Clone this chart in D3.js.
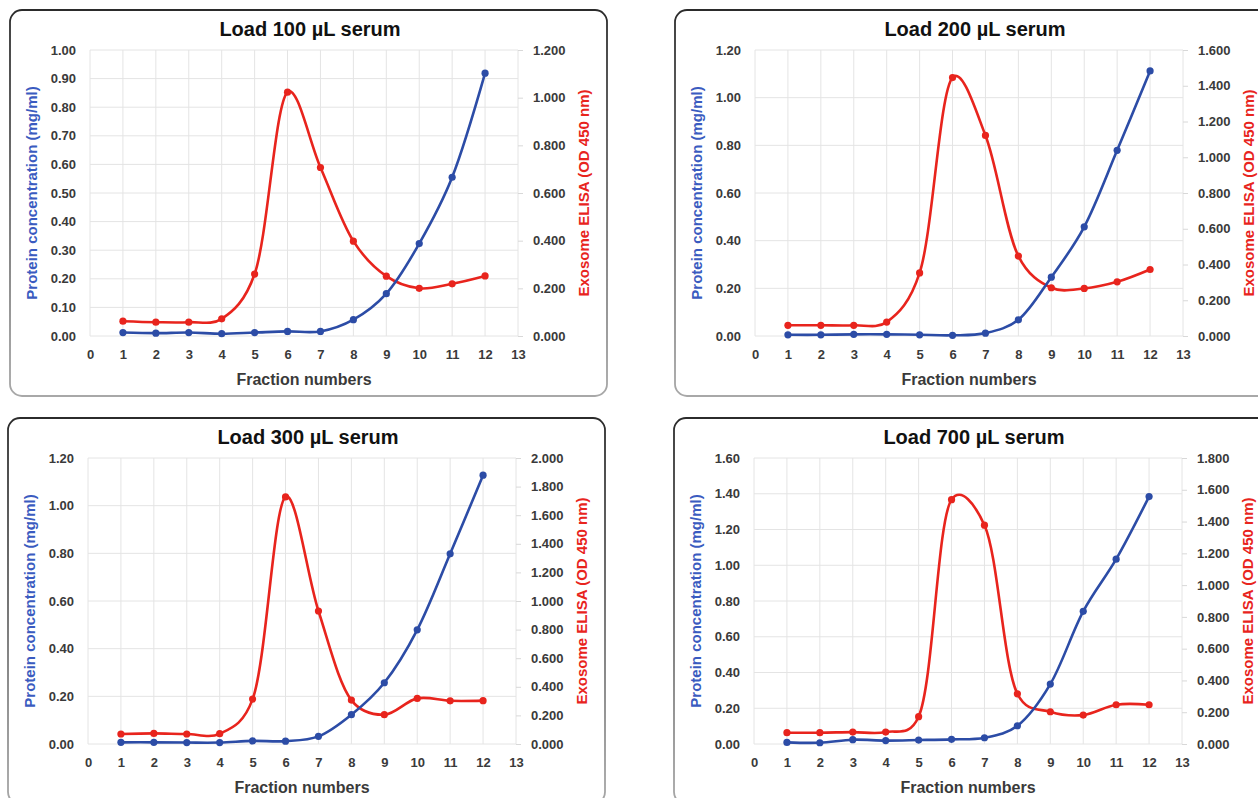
<!DOCTYPE html>
<html><head><meta charset="utf-8">
<script src="https://cdn.jsdelivr.net/npm/d3@7"></script>
<style>body{margin:0;background:#fff;} svg{display:block;}</style>
</head><body>
<svg id="c" width="1258" height="798"></svg>
<script>
const fractions = [1,2,3,4,5,6,7,8,9,10,11,12];
const xTicks = [0,1,2,3,4,5,6,7,8,9,10,11,12,13];
const titles = ["Load 100 \u00b5L serum","Load 200 \u00b5L serum","Load 300 \u00b5L serum","Load 700 \u00b5L serum"];
const protein100 = [0.012,0.010,0.012,0.008,0.012,0.016,0.016,0.057,0.148,0.323,0.555,0.919];
const elisa100   = [0.062,0.058,0.058,0.072,0.260,1.023,0.707,0.398,0.251,0.200,0.219,0.252];
const protein200 = [0.005,0.005,0.007,0.007,0.005,0.003,0.012,0.068,0.247,0.458,0.779,1.112];
const elisa200   = [0.060,0.060,0.060,0.078,0.353,1.446,1.122,0.447,0.270,0.266,0.303,0.372];
const protein300 = [0.007,0.007,0.006,0.006,0.013,0.012,0.032,0.123,0.257,0.479,0.798,1.128];
const elisa300   = [0.070,0.074,0.070,0.072,0.314,1.728,0.930,0.307,0.205,0.319,0.302,0.303];
const protein700 = [0.009,0.007,0.024,0.019,0.022,0.026,0.035,0.102,0.335,0.742,1.034,1.384];
const elisa700   = [0.071,0.071,0.075,0.075,0.172,1.538,1.377,0.316,0.203,0.182,0.247,0.247];
const leftMax  = [1.0,1.2,1.2,1.6];
const leftStep = [0.1,0.2,0.2,0.2];
const rightMax = [1.2,1.6,2.0,1.8];
const rightStep = [0.2,0.2,0.2,0.2];
const xLabel = "Fraction numbers";
const leftLabel = "Protein concentration (mg/ml)";
const rightLabel = "Exosome ELISA (OD 450 nm)";

const proteinSeries = [protein100, protein200, protein300, protein700];
const elisaSeries = [elisa100, elisa200, elisa300, elisa700];
const origins = [[10,10],[675,10],[8,418],[674,418]];

const BLUE = "#2c4ca6", RED = "#e8241d", BLUE_T = "#3a5bc0", TXT = "#3a3a3a";
const FONT = "'Liberation Sans', Arial, sans-serif";
const svg = d3.select("#c");
const defs = svg.append("defs");
const grad = defs.append("linearGradient").attr("id","bg").attr("x1",0).attr("y1",0).attr("x2",0).attr("y2",1);
grad.append("stop").attr("offset","0%").attr("stop-color","#2b2b2b");
grad.append("stop").attr("offset","100%").attr("stop-color","#a8a8a8");

const PW = 597, PH = 386, PL = 80, PT = 40, PWid = 428, PHt = 286;

function ticksOf(max, step){ const n = Math.round(max/step); return d3.range(n+1).map(i=>+(i*step).toFixed(4)); }

origins.forEach((o,i)=>{
  const g = svg.append("g").attr("transform",`translate(${o[0]},${o[1]})`);
  g.append("rect").attr("x",0).attr("y",0).attr("width",PW).attr("height",PH)
    .attr("rx",12).attr("ry",12).attr("fill","#fff").attr("stroke","url(#bg)").attr("stroke-width",1.8);

  const x = d3.scaleLinear().domain([0,13]).range([PL, PL+PWid]);
  const yL = d3.scaleLinear().domain([0,leftMax[i]]).range([PT+PHt, PT]);
  const yR = d3.scaleLinear().domain([0,rightMax[i]]).range([PT+PHt, PT]);
  const lt = ticksOf(leftMax[i], leftStep[i]);
  const rt = ticksOf(rightMax[i], rightStep[i]);

  const grid = g.append("g");
  grid.selectAll("line.h").data(lt).join("line").attr("class","h")
    .attr("x1",x(0)).attr("x2",x(13)).attr("y1",d=>yL(d)).attr("y2",d=>yL(d))
    .attr("stroke","#e4e4e4").attr("stroke-width",1);
  grid.selectAll("line.v").data(xTicks).join("line").attr("class","v")
    .attr("x1",d=>x(d)).attr("x2",d=>x(d)).attr("y1",PT).attr("y2",PT+PHt)
    .attr("stroke","#e4e4e4").attr("stroke-width",1);

  const axL = d3.axisLeft(yL).tickValues(lt).tickFormat(d3.format(".2f")).tickSize(0).tickPadding(14);
  const axR = d3.axisRight(yR).tickValues(rt).tickFormat(d3.format(".3f")).tickSize(5).tickPadding(10);
  const axB = d3.axisBottom(x).tickValues(xTicks).tickFormat(d3.format("d")).tickSize(0).tickPadding(14);
  const gl = g.append("g").attr("transform",`translate(${x(0)},0)`).call(axL);
  const gr = g.append("g").attr("transform",`translate(${x(13)},0)`).call(axR);
  const gb = g.append("g").attr("transform",`translate(0,${yL(0)})`).call(axB);
  [gl,gr,gb].forEach(a=>{
    a.select(".domain").remove();
    a.selectAll("line").attr("stroke","#d8d8d8");
    a.selectAll("text").attr("font-family",FONT).attr("font-size",13).attr("font-weight","bold").attr("fill",TXT);
  });

  g.append("text").attr("x",300).attr("y",26).attr("text-anchor","middle")
    .attr("font-family",FONT).attr("font-size",20).attr("font-weight","bold").attr("fill","#111").text(titles[i]);
  g.append("text").attr("x",(x(0)+x(13))/2).attr("y",375).attr("text-anchor","middle")
    .attr("font-family",FONT).attr("font-size",16).attr("font-weight","bold").attr("fill",TXT).text(xLabel);
  const cy = PT+PHt/2;
  g.append("text").attr("transform",`translate(27,${cy}) rotate(-90)`).attr("text-anchor","middle")
    .attr("font-family",FONT).attr("font-size",15).attr("font-weight","bold").attr("fill",BLUE_T).text(leftLabel);
  g.append("text").attr("transform",`translate(${x(13)+71},${cy}) rotate(-90)`).attr("text-anchor","middle")
    .attr("font-family",FONT).attr("font-size",15).attr("font-weight","bold").attr("fill",RED).text(rightLabel);

  const pData = fractions.map((f,k)=>({x:f,y:proteinSeries[i][k]}));
  const eData = fractions.map((f,k)=>({x:f,y:elisaSeries[i][k]}));
  const lineL = d3.line().x(d=>x(d.x)).y(d=>yL(d.y)).curve(d3.curveCatmullRom.alpha(0.25));
  const lineR = d3.line().x(d=>x(d.x)).y(d=>yR(d.y)).curve(d3.curveCatmullRom.alpha(0.25));
  g.append("path").datum(eData).attr("d",lineR).attr("fill","none").attr("stroke",RED).attr("stroke-width",2.6);
  g.selectAll("circle.e").data(eData).join("circle").attr("class","e")
    .attr("cx",d=>x(d.x)).attr("cy",d=>yR(d.y)).attr("r",3.6).attr("fill",RED);
  g.append("path").datum(pData).attr("d",lineL).attr("fill","none").attr("stroke",BLUE).attr("stroke-width",2.6);
  g.selectAll("circle.p").data(pData).join("circle").attr("class","p")
    .attr("cx",d=>x(d.x)).attr("cy",d=>yL(d.y)).attr("r",3.6).attr("fill",BLUE);
});
</script>
</body></html>
